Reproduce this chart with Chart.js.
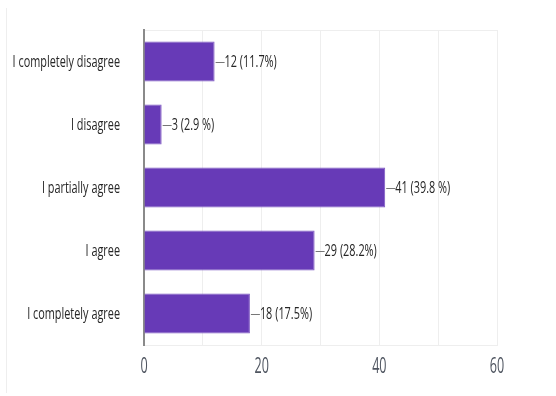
<!DOCTYPE html>
<html>
<head>
<meta charset="utf-8">
<script src="https://cdn.jsdelivr.net/npm/chart.js@4/dist/chart.umd.min.js"></script>
<style>
  html, body { margin: 0; padding: 0; background: #fff; }
  #wrap { width: 556px; height: 396px; position: relative; }
</style>
</head>
<body>
<div id="wrap"><canvas id="c" width="556" height="396"></canvas></div>
<script>
// Survey answers and response counts
const categories = [
  'I completely disagree',
  'I disagree',
  'I partially agree',
  'I agree',
  'I completely agree'
];
const counts = [12, 3, 41, 29, 18];
const shares = ['11.7%', '2.9 %', '39.8 %', '28.2%', '17.5%'];
const xTickLabels = [0, 20, 40, 60];

const FONT = "'Open Sans', 'Noto Sans', sans-serif";

// Draws text horizontally condensed, anchored at (x, y)
function condensedText(ctx, text, x, y, align, size, color, squeeze) {
  ctx.save();
  ctx.font = size + 'px ' + FONT;
  ctx.fillStyle = color;
  ctx.textBaseline = 'middle';
  ctx.textAlign = align;
  ctx.translate(x, y);
  ctx.scale(squeeze, 1);
  ctx.fillText(text, 0, 0);
  ctx.restore();
}

// Frame: faint left rule, plot top border, axis labels
const framePlugin = {
  id: 'frame',
  beforeDraw(chart) {
    const ctx = chart.ctx;
    const a = chart.chartArea;
    ctx.save();
    ctx.strokeStyle = '#eeeeee';
    ctx.lineWidth = 1;
    ctx.beginPath();
    ctx.moveTo(6.5, 8);
    ctx.lineTo(6.5, 393);
    ctx.stroke();
    ctx.beginPath();
    ctx.moveTo(a.left, a.top + 0.5);
    ctx.lineTo(a.right, a.top + 0.5);
    ctx.stroke();
    ctx.restore();
  },
  afterDraw(chart) {
    const ctx = chart.ctx;
    const xs = chart.scales.x;
    const ys = chart.scales.y;
    // category labels
    categories.forEach((label, i) => {
      condensedText(ctx, label, ys.right - 24, ys.getPixelForTick(i) + 1, 'right', 17, '#262626', 0.64);
    });
    // value axis labels
    xTickLabels.forEach(v => {
      condensedText(ctx, String(v), xs.getPixelForValue(v), xs.top + 22, 'center', 21, '#4f5560', 0.6);
    });
  }
};

// Value labels with a short leader line after each bar
const valueLabels = {
  id: 'valueLabels',
  afterDatasetsDraw(chart) {
    const ctx = chart.ctx;
    const meta = chart.getDatasetMeta(0);
    meta.data.forEach((bar, i) => {
      const y = Math.round(bar.y) + 0.5;
      ctx.save();
      ctx.strokeStyle = '#777777';
      ctx.lineWidth = 1;
      ctx.beginPath();
      ctx.moveTo(bar.x + 1, y);
      ctx.lineTo(bar.x + 10, y);
      ctx.stroke();
      ctx.restore();
      condensedText(ctx, counts[i] + ' (' + shares[i] + ')', bar.x + 10, bar.y + 1, 'left', 17, '#262626', 0.64);
    });
  }
};

new Chart(document.getElementById('c'), {
  type: 'bar',
  data: {
    labels: categories,
    datasets: [{
      data: counts,
      backgroundColor: '#673ab7',
      borderColor: '#7e57c2',
      borderWidth: 1,
      barPercentage: 0.635,
      categoryPercentage: 1
    }]
  },
  options: {
    indexAxis: 'y',
    responsive: false,
    animation: false,
    devicePixelRatio: 1,
    layout: { padding: { top: 30, right: 59, left: 0, bottom: 0 } },
    plugins: { legend: { display: false }, tooltip: { enabled: false } },
    scales: {
      x: {
        min: 0,
        max: 60,
        ticks: {
          stepSize: 10,
          autoSkip: false,
          maxRotation: 0,
          color: 'rgba(0,0,0,0)',
          font: { family: FONT, size: 15 }
        },
        grid: { color: '#eeeeee', drawTicks: false },
        border: { color: '#eeeeee' },
        afterFit(s) { s.height = 51; }
      },
      y: {
        ticks: {
          color: 'rgba(0,0,0,0)',
          font: { family: FONT, size: 14 }
        },
        grid: { display: false, drawTicks: false },
        border: { color: '#8a8a8a', width: 2 },
        afterFit(s) { s.width = 144; }
      }
    }
  },
  plugins: [framePlugin, valueLabels]
});
</script>
</body>
</html>
